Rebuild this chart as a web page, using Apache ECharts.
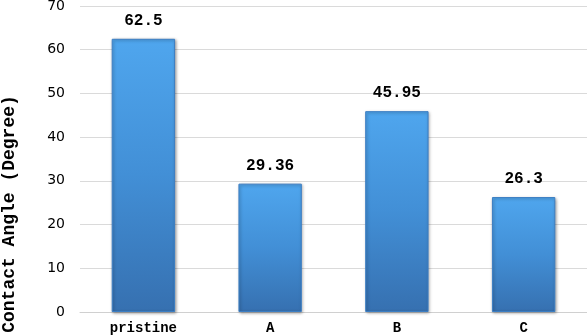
<!DOCTYPE html>
<html>
<head>
<meta charset="utf-8">
<script src="https://cdn.jsdelivr.net/npm/echarts@6/dist/echarts.min.js"></script>
<style>
  html, body { margin: 0; padding: 0; background: #fff; }
  #chart { width: 587px; height: 336px; }
</style>
</head>
<body>
<div id="chart"></div>
<script>
// data
const categories = ['pristine', 'A', 'B', 'C']
const contactAngles = [62.5, 29.36, 45.95, 26.3]
const yTicks = { min: 0, max: 70, interval: 10 }
const yTitle = 'Contact Angle (Degree)'

const chart = echarts.init(document.getElementById('chart'), null, { renderer: 'canvas' })

const barColor = new echarts.graphic.LinearGradient(0, 0, 0, 1, [
  { offset: 0, color: '#4fa6ee' },
  { offset: 0.5, color: '#428fd6' },
  { offset: 1, color: '#3670b0' }
])

const option = {
  animation: false,
  grid: { left: 80, right: 0, top: 6, bottom: 24, outerBoundsMode: 'none', containLabel: false },
  // the axis title sits lower than the axis middle in the reference, so it is placed by hand
  graphic: [
    {
      type: 'text',
      x: 9,
      y: 214,
      rotation: Math.PI / 2,
      style: {
        text: yTitle,
        fill: '#000',
        fontFamily: 'Liberation Mono',
        fontWeight: 'bold',
        fontSize: 18,
        align: 'center',
        verticalAlign: 'middle'
      }
    }
  ],
  xAxis: {
    type: 'category',
    data: categories,
    axisTick: { show: false },
    axisLine: { lineStyle: { color: '#d0d0d0', width: 1 } },
    axisLabel: {
      color: '#000',
      fontFamily: 'Liberation Mono',
      fontWeight: 'bold',
      fontSize: 14,
      margin: 9
    }
  },
  yAxis: {
    type: 'value',
    min: yTicks.min,
    max: yTicks.max,
    interval: yTicks.interval,
    axisLine: { show: false },
    axisTick: { show: false },
    splitLine: { lineStyle: { color: '#dadada', width: 1 } },
    axisLabel: {
      color: '#000',
      fontFamily: 'DejaVu Sans',
      fontSize: 14,
      margin: 15
    }
  },
  series: [
    {
      type: 'bar',
      data: contactAngles,
      barWidth: '50%',
      itemStyle: {
        color: barColor,
        borderColor: '#3d7fc4',
        borderWidth: 1,
        shadowColor: 'rgba(0,0,0,0.35)',
        shadowBlur: 3,
        shadowOffsetX: 1,
        shadowOffsetY: 1
      },
      label: {
        show: true,
        position: 'top',
        distance: 10,
        color: '#000',
        fontFamily: 'Liberation Mono',
        fontWeight: 'bold',
        fontSize: 16
      }
    }
  ]
}

chart.setOption(option)
</script>
</body>
</html>
